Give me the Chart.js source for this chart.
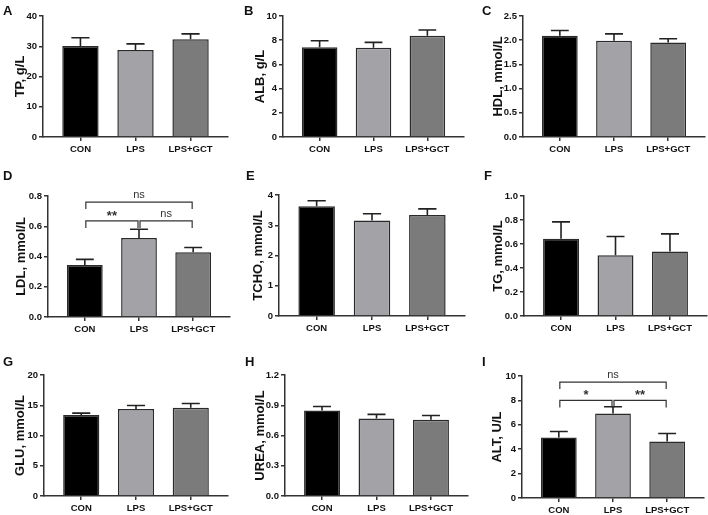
<!DOCTYPE html>
<html>
<head>
<meta charset="utf-8">
<script src="https://cdn.jsdelivr.net/npm/chart.js@4.4.1/dist/chart.umd.min.js"></script>
<style>
  body { margin: 0; background: #fff; }
  #wrap { position: relative; width: 708px; height: 515px; overflow: hidden; }
  canvas { position: absolute; }
  .letter { position: absolute; font: bold 13px Arial, "Liberation Sans", sans-serif; color: #111; line-height: 13px; }
</style>
</head>
<body>
<div id="wrap"></div>
<script>
const groups = ['CON', 'LPS', 'LPS+GCT'];

const tpMean = [30.1, 28.8, 32.3];
const tpSd = [2.7, 2.0, 1.8];
const albMean = [7.41, 7.38, 8.37];
const albSd = [0.55, 0.44, 0.47];
const hdlMean = [2.09, 1.99, 1.95];
const hdlSd = [0.11, 0.14, 0.08];
const ldlMean = [0.344, 0.522, 0.428];
const ldlSd = [0.037, 0.058, 0.032];
const tchoMean = [3.63, 3.16, 3.34];
const tchoSd = [0.18, 0.22, 0.2];
const tgMean = [0.643, 0.507, 0.537];
const tgSd = [0.141, 0.155, 0.147];
const gluMean = [13.4, 14.4, 14.6];
const gluSd = [0.3, 0.56, 0.7];
const ureaMean = [0.848, 0.769, 0.756];
const ureaSd = [0.04, 0.041, 0.043];
const altMean = [4.96, 6.93, 4.63];
const altSd = [0.49, 0.55, 0.66];

// significance: [from, to, label, bracket height in axis units]
const ldlSig = [[0, 2, 'ns', 0.76], [0, 1, '**', 0.635], [1, 2, 'ns', 0.635]];
const altSig = [[0, 2, 'ns', 9.5], [0, 1, '*', 8.0], [1, 2, '**', 8.0]];

const panels = [
  { id: 'A', title: 'TP, g/L', mean: tpMean, sd: tpSd, max: 40, step: 10, dec: 0 },
  { id: 'B', title: 'ALB, g/L', mean: albMean, sd: albSd, max: 10, step: 2, dec: 0 },
  { id: 'C', title: 'HDL, mmol/L', mean: hdlMean, sd: hdlSd, max: 2.5, step: 0.5, dec: 1 },
  { id: 'D', title: 'LDL, mmol/L', mean: ldlMean, sd: ldlSd, max: 0.8, step: 0.2, dec: 1, sig: ldlSig },
  { id: 'E', title: 'TCHO, mmol/L', mean: tchoMean, sd: tchoSd, max: 4, step: 1, dec: 0 },
  { id: 'F', title: 'TG, mmol/L', mean: tgMean, sd: tgSd, max: 1.0, step: 0.2, dec: 1 },
  { id: 'G', title: 'GLU, mmol/L', mean: gluMean, sd: gluSd, max: 20, step: 5, dec: 0 },
  { id: 'H', title: 'UREA, mmol/L', mean: ureaMean, sd: ureaSd, max: 1.2, step: 0.3, dec: 1 },
  { id: 'I', title: 'ALT, U/L', mean: altMean, sd: altSd, max: 10, step: 2, dec: 0, sig: altSig },
];

// page geometry: [left, axisX, plotTop, plotBottom, plotRight, titleX, letterX, letterY]
const boxes = [
  [0, 43, 16, 137, 228, 20, 3, 4],
  [236, 283, 16, 137, 464, 24, 244, 4],
  [472, 523, 16, 137, 705, 26, 482, 4],
  [0, 48, 196, 317, 230, 21, 3, 169],
  [236, 279, 195, 316, 465, 22, 246, 169],
  [472, 524, 196, 316, 707, 26, 484, 169],
  [0, 44, 375, 496, 228, 20, 3, 355],
  [236, 285, 375, 496, 468, 24, 245, 355],
  [472, 522, 376, 498, 704, 25, 482, 355],
];

const fam = 'Arial, "Liberation Sans", sans-serif';
Chart.defaults.font.family = fam;
Chart.defaults.color = '#111';
const barColors = ['#000000', '#a3a2a7', '#7b7b7b'];
const wrap = document.getElementById('wrap');

panels.forEach((p, k) => {
  const [left, axisX, plotTop, plotBottom, plotRight, titleX, lx, ly] = boxes[k];
  const topPad = 24;
  const xH = 30;
  const cv = document.createElement('canvas');
  const h = plotBottom - plotTop + topPad + xH;
  cv.width = 236;
  cv.height = h;
  cv.style.left = left + 'px';
  cv.style.top = (plotTop - topPad) + 'px';
  wrap.appendChild(cv);

  const letter = document.createElement('div');
  letter.className = 'letter';
  letter.textContent = p.id;
  letter.style.left = lx + 'px';
  letter.style.top = ly + 'px';
  wrap.appendChild(letter);

  const errBars = {
    id: 'errBars' + p.id,
    afterDatasetsDraw(chart) {
      const { ctx, scales: { x, y } } = chart;
      const meta = chart.getDatasetMeta(0);
      ctx.save();
      ctx.strokeStyle = '#222';
      ctx.lineWidth = 1.6;
      p.mean.forEach((m, i) => {
        const cx = x.getPixelForValue(i);
        const y0 = y.getPixelForValue(m);
        const y1 = y.getPixelForValue(m + p.sd[i]);
        const half = meta.data[i].width / 4;
        ctx.beginPath();
        ctx.moveTo(cx, y0);
        ctx.lineTo(cx, y1);
        ctx.moveTo(cx - half, y1);
        ctx.lineTo(cx + half, y1);
        ctx.stroke();
      });
      if (p.sig) {
        p.sig.forEach(([a, b, label, v]) => {
          const xa = x.getPixelForValue(a) + 1;
          const xb = x.getPixelForValue(b) - 1;
          const yy = y.getPixelForValue(v);
          ctx.strokeStyle = '#333';
          ctx.lineWidth = 1.2;
          ctx.beginPath();
          ctx.moveTo(xa, yy + 7);
          ctx.lineTo(xa, yy);
          ctx.lineTo(xb, yy);
          ctx.lineTo(xb, yy + 7);
          ctx.stroke();
          ctx.fillStyle = '#333';
          ctx.textAlign = 'center';
          ctx.textBaseline = 'alphabetic';
          if (label === 'ns') {
            ctx.font = '11px ' + fam;
            ctx.fillText(label, (xa + xb) / 2, yy - 4);
          } else {
            ctx.font = 'bold 13px ' + fam;
            ctx.fillText(label, (xa + xb) / 2, yy - 1);
          }
        });
      }
      ctx.restore();
    }
  };

  new Chart(cv, {
    type: 'bar',
    data: {
      datasets: [{
        data: p.mean.map((v, i) => ({ x: i, y: v })),
        backgroundColor: barColors,
        borderColor: '#2a2a2a',
        borderWidth: 1.5,
        barPercentage: 0.66,
        categoryPercentage: 1,
      }],
    },
    options: {
      responsive: false,
      animation: false,
      layout: { padding: { top: topPad, right: left + 236 - plotRight, left: 0, bottom: 0 } },
      plugins: { legend: { display: false }, tooltip: { enabled: false } },
      scales: {
        x: {
          type: 'linear',
          offset: false,
          min: -0.68,
          max: 2.68,
          afterBuildTicks: (s) => { s.ticks = groups.map((g, i) => ({ value: i })); },
          afterFit: (s) => { s.height = xH; },
          ticks: {
            callback: (v) => groups[v],
            autoSkip: false,
            maxRotation: 0,
            padding: 3,
            color: '#111',
            font: { size: 9.5, weight: 'bold' },
          },
          grid: { drawOnChartArea: false, offset: false, tickLength: 4, color: '#333', lineWidth: 1.5 },
          border: { color: '#333', width: 1.5 },
        },
        y: {
          min: 0,
          max: p.max,
          afterFit: (s) => { s.width = axisX - left; },
          ticks: {
            stepSize: p.step,
            callback: (v) => v.toFixed(p.dec),
            padding: 2,
            color: '#111',
            font: { size: 9.5, weight: 'bold' },
          },
          grid: { drawOnChartArea: false, tickLength: 4, color: '#333', lineWidth: 1.5 },
          border: { color: '#333', width: 1.5 },
          title: {
            display: true,
            text: p.title,
            color: '#111',
            font: { size: 13, weight: 'bold' },
            padding: { top: titleX - 7.8, bottom: 0 },
          },
        },
      },
    },
    plugins: [errBars],
  });
});
</script>
</body>
</html>
